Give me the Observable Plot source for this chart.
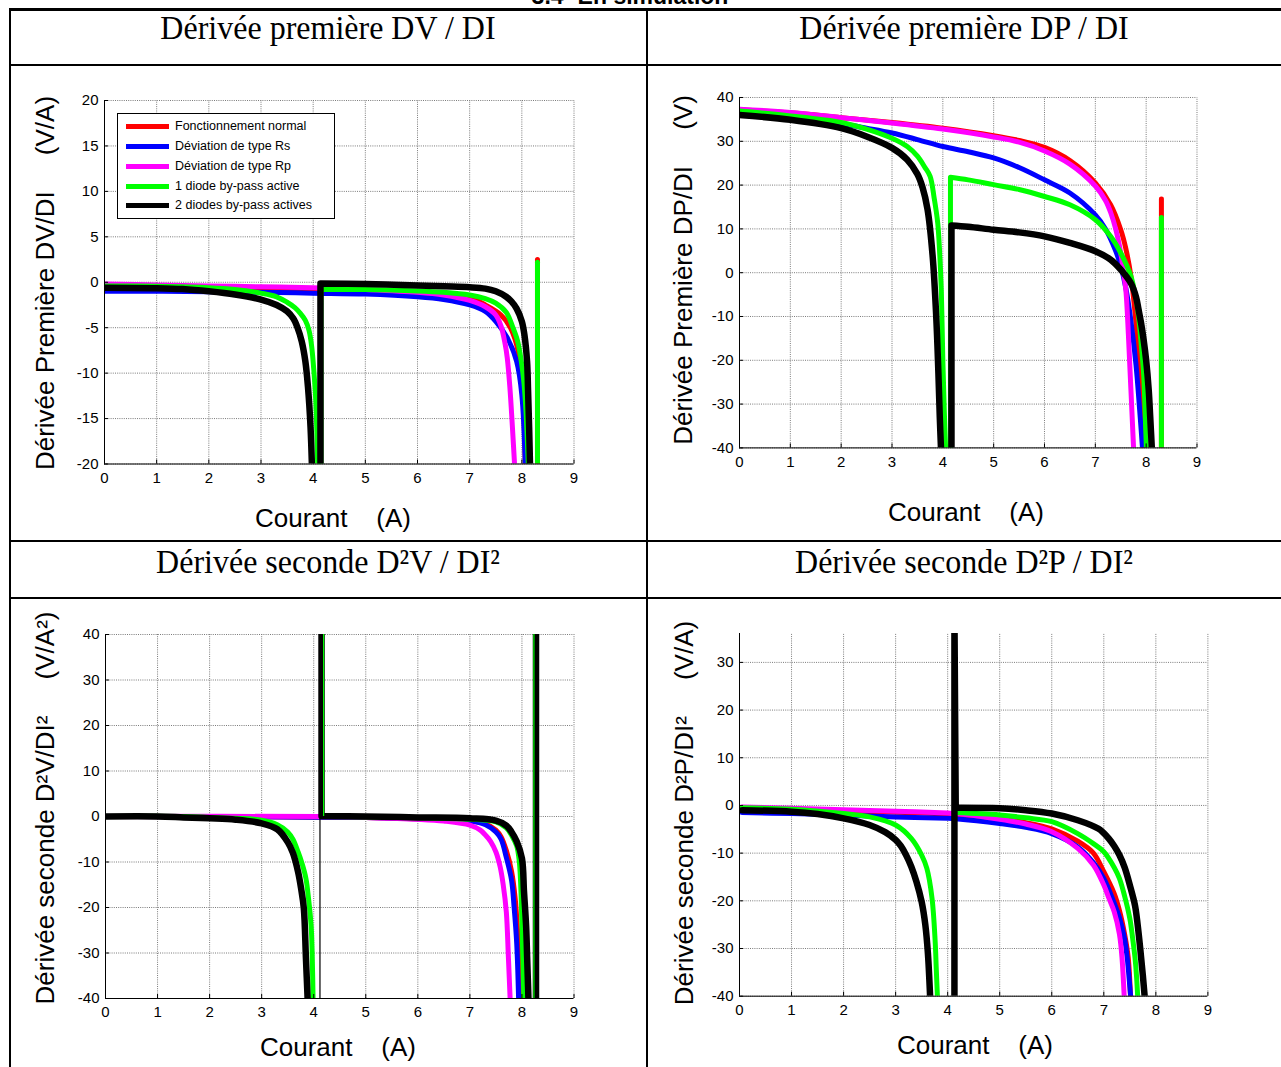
<!DOCTYPE html>
<html>
<head>
<meta charset="utf-8">
<script src="https://cdn.jsdelivr.net/npm/d3@7"></script>
<script src="https://cdn.jsdelivr.net/npm/@observablehq/plot@0.6"></script>
<style>
  body { margin: 0; background: #fff; }
  #page { position: relative; width: 1281px; height: 1067px; overflow: hidden; background: #fff;
          font-family: "Liberation Sans", Arial, sans-serif; color: #000; }
  .rule { position: absolute; background: #000; }
  .hdr { position: absolute; font-family: "Liberation Serif", "Times New Roman", serif; font-size: 32px;
         transform: translate(-50%, -50%) scaleY(1.08); white-space: nowrap; }
  .ylab { position: absolute; font-size: 26px; white-space: pre; transform: translate(-50%, -50%) rotate(-90deg); }
  .xlab { position: absolute; font-size: 26px; white-space: pre; transform: translate(-50%, -50%); }
  .chart { position: absolute; }
  .chart svg { overflow: visible; }
  #legend { position: absolute; left: 117px; top: 113px; width: 216px; height: 104px; border: 1px solid #000; background: #fff; }
  .lg-line { position: absolute; left: 8px; width: 43px; height: 5px; }
  .lg-text { position: absolute; left: 57px; font-size: 12.5px; transform: translateY(-50%); white-space: nowrap; }
  #toptitle { position: absolute; left: 630px; top: -15px; transform: translateX(-50%); font-weight: bold;
              font-size: 23px; line-height: 23px; font-family: "Liberation Sans", Arial, sans-serif; white-space: nowrap; }
</style>
</head>
<body>
<div id="page">
  <div id="toptitle">3.4- En simulation</div>
  <!-- table borders -->
  <div class="rule" style="left:9px;top:8px;width:1272px;height:3px"></div>
  <div class="rule" style="left:9px;top:64px;width:1272px;height:2px"></div>
  <div class="rule" style="left:9px;top:540px;width:1272px;height:2px"></div>
  <div class="rule" style="left:9px;top:597px;width:1272px;height:2px"></div>
  <div class="rule" style="left:9px;top:8px;width:2px;height:1059px"></div>
  <div class="rule" style="left:646px;top:8px;width:2px;height:1059px"></div>

  <div class="hdr" style="left:328px;top:28px">Dérivée première DV / DI</div>
  <div class="hdr" style="left:964px;top:28px">Dérivée première DP / DI</div>
  <div class="hdr" style="left:328px;top:562px">Dérivée seconde D²V / DI²</div>
  <div class="hdr" style="left:964px;top:562px">Dérivée seconde D²P / DI²</div>

  <div id="c1" class="chart"></div>
  <div id="c2" class="chart"></div>
  <div id="c3" class="chart"></div>
  <div id="c4" class="chart"></div>

  <div class="ylab" style="left:45px;top:283px">Dérivée Première DV/DI     (V/A)</div>
  <div class="ylab" style="left:683px;top:270px">Dérivée Première DP/DI     (V)</div>
  <div class="ylab" style="left:45px;top:808px">Dérivée seconde D²V/DI²     (V/A²)</div>
  <div class="ylab" style="left:684px;top:813px">Dérivée seconde D²P/DI²     (V/A)</div>

  <div class="xlab" style="left:333px;top:518px">Courant    (A)</div>
  <div class="xlab" style="left:966px;top:512px">Courant    (A)</div>
  <div class="xlab" style="left:338px;top:1047px">Courant    (A)</div>
  <div class="xlab" style="left:975px;top:1045px">Courant    (A)</div>

  <div id="legend"></div>
</div>
<script>
// ---------------- DATA ----------------
const seriesNames = ["Fonctionnement normal", "Déviation de type Rs", "Déviation de type Rp", "1 diode by-pass active", "2 diodes by-pass actives"];
const seriesColors = ["#ff0000", "#0000ff", "#ff00ff", "#00ff00", "#000000"];

const xTicks = [0, 1, 2, 3, 4, 5, 6, 7, 8, 9];
const dvTicks = [-20, -15, -10, -5, 0, 5, 10, 15, 20];
const dpTicks = [-40, -30, -20, -10, 0, 10, 20, 30, 40];
const d2vTicks = [-40, -30, -20, -10, 0, 10, 20, 30, 40];
const d2pTicks = [-40, -30, -20, -10, 0, 10, 20, 30];

// Panel 1 : DV/DI (V/A) — each series is a list of segments of [I, value]
const dvNormal = [
  [[0,-0.5],[1,-0.55],[2,-0.65],[3,-0.75],[4,-0.85],[5,-1.0],[6,-1.3],[6.5,-1.5],[7,-1.7],[7.3,-2.5],[7.6,-3.6],[7.78,-5.0],[7.93,-7.6],[8.02,-12.4],[8.07,-21]],
  [[8.3,-21],[8.3,2.5]]
];
const dvRs = [
  [[0,-1.0],[1,-1.0],[2,-1.05],[3,-1.1],[4,-1.2],[5,-1.3],[6,-1.6],[6.5,-1.9],[7,-2.5],[7.3,-3.2],[7.5,-4.3],[7.72,-6.1],[7.9,-8.7],[8.0,-12.4],[8.07,-21]]
];
const dvRp = [
  [[0,-0.2],[1,-0.3],[2,-0.4],[3,-0.5],[4,-0.6],[5,-0.8],[6,-1.1],[6.5,-1.4],[7,-2.0],[7.3,-2.7],[7.5,-3.6],[7.6,-4.8],[7.68,-6.8],[7.72,-8.3],[7.77,-11.5],[7.82,-16],[7.87,-21]]
];
const dv1Diode = [
  [[0,-0.4],[1,-0.45],[2,-0.6],[2.5,-0.8],[3,-1.2],[3.3,-1.6],[3.5,-2.2],[3.65,-2.8],[3.75,-3.4],[3.85,-4.2],[3.92,-5.3],[3.97,-7],[4.01,-9.5],[4.05,-13],[4.09,-21]],
  [[4.15,-21],[4.15,-0.8],[4.15,-0.8],[5,-0.8],[6,-0.95],[6.5,-1.1],[7,-1.4],[7.3,-1.8],[7.5,-2.3],[7.7,-3.3],[7.83,-5.0],[7.92,-6.5],[7.99,-8.7],[8.04,-11],[8.08,-14.2],[8.13,-21]],
  [[8.3,-21],[8.3,2.2]]
];
const dv2Diodes = [
  [[0,-0.6],[1,-0.65],[1.5,-0.75],[2,-1.0],[2.5,-1.35],[3,-1.9],[3.3,-2.5],[3.5,-3.2],[3.62,-4.0],[3.7,-5.0],[3.78,-6.5],[3.85,-8.7],[3.9,-11.5],[3.95,-16],[3.98,-21]],
  [[4.14,-21],[4.14,-0.15],[4.14,-0.15],[5,-0.2],[6,-0.35],[6.5,-0.45],[7,-0.55],[7.3,-0.7],[7.5,-1.0],[7.7,-1.6],[7.8,-2.1],[7.9,-2.9],[8.0,-4.3],[8.05,-5.8],[8.1,-8.7],[8.12,-12],[8.14,-16],[8.16,-21]]
];

// Panel 2 : DP/DI (V)
const dpNormal = [
  [[0,37.2],[1,36.5],[2,35.4],[3,34.3],[4,33.0],[5,31.3],[5.5,30.2],[6,28.6],[6.5,25.6],[7,20.5],[7.3,15.5],[7.5,9.8],[7.6,5.5],[7.7,-0.8],[7.8,-11.5],[7.88,-24],[7.93,-35],[7.96,-42]],
  [[8.3,-42],[8.3,16.8]]
];
const dpRs = [
  [[0,36.6],[1,35.4],[2,34.0],[2.5,33.0],[3,31.9],[3.5,30.4],[4,28.8],[4.5,27.6],[5,26.2],[5.5,24.0],[6,21.2],[6.5,18.2],[7,13.2],[7.2,10],[7.4,5],[7.5,1.5],[7.6,-3.5],[7.7,-11],[7.8,-21],[7.87,-31],[7.94,-42]]
];
const dpRp = [
  [[0,37.3],[1,36.6],[2,35.4],[3,34.2],[4,32.8],[5,31.0],[5.5,29.8],[6,27.8],[6.5,24.8],[7,19.8],[7.2,16.5],[7.3,13.8],[7.4,10],[7.5,4.5],[7.55,0.5],[7.6,-3.9],[7.65,-14],[7.7,-26.7],[7.76,-42]]
];
const dp1Diode = [
  [[0,36.9],[1,35.8],[2,34.3],[2.5,32.8],[3,30.7],[3.3,28.8],[3.5,26.6],[3.65,24],[3.75,22],[3.83,17],[3.9,11.3],[3.94,4],[3.97,-4],[4.0,-20],[4.03,-32],[4.06,-42]],
  [[4.15,-42],[4.15,21.8],[4.15,21.8],[4.5,21.2],[5,20.1],[5.5,19],[6,17.4],[6.5,15.5],[7,12.1],[7.3,8.3],[7.5,4.5],[7.7,-0.8],[7.8,-6],[7.85,-10],[7.9,-16],[7.95,-23],[7.98,-32],[8.01,-42]],
  [[8.3,-42],[8.3,12.6]]
];
const dp2Diodes = [
  [[0,36],[1,34.9],[2,33],[2.5,31.1],[3,28.5],[3.3,25.8],[3.5,22.5],[3.6,19.5],[3.7,14.4],[3.8,3.7],[3.87,-10],[3.91,-22],[3.94,-33],[3.97,-42]],
  [[4.17,-42],[4.17,10.8],[4.17,10.8],[4.5,10.5],[5,9.8],[5.5,9.2],[6,8.3],[6.5,6.8],[7,4.9],[7.3,3.0],[7.5,0.7],[7.7,-2.4],[7.8,-5.5],[7.85,-8.4],[7.9,-11.5],[7.95,-15.3],[8.0,-20],[8.05,-26.7],[8.08,-33],[8.12,-42]]
];

// Panel 3 : D2V/DI2 (V/A2)
const d2vNormal = [
  [[0,0],[5,-0.2],[6,-0.5],[7,-0.9],[7.3,-1.6],[7.5,-3],[7.6,-4.5],[7.7,-7.5],[7.8,-12],[7.87,-18],[7.92,-26],[7.95,-33],[7.98,-42]]
];
const d2vRs = [
  [[0,0],[5,-0.2],[6,-0.5],[7,-1.0],[7.3,-1.8],[7.5,-3.4],[7.6,-5],[7.7,-9],[7.8,-14],[7.85,-20],[7.9,-28],[7.94,-42]]
];
const d2vRp = [
  [[0,0],[4.15,0],[5,-0.2],[6,-0.6],[6.5,-1.0],[7,-1.9],[7.2,-3.0],[7.3,-4.1],[7.4,-5.5],[7.5,-7.8],[7.58,-11],[7.64,-15],[7.7,-21],[7.74,-31],[7.78,-42]]
];
const d2v1Diode = [
  [[0,0],[1.5,0],[2,-0.2],[2.5,-0.4],[3,-0.8],[3.3,-1.8],[3.5,-3.4],[3.6,-5],[3.7,-7.8],[3.78,-10.5],[3.85,-13.6],[3.9,-18],[3.95,-24],[3.97,-30],[3.99,-42]],
  [[4.15,0],[5,-0.1],[6,-0.3],[7,-0.6],[7.5,-1.2],[7.7,-2.5],[7.8,-4.1],[7.9,-6.5],[7.95,-10],[7.98,-16],[8.0,-24],[8.02,-32],[8.04,-42]]
];
const d2v2Diodes = [
  [[0,0],[1,0],[1.5,-0.2],[2,-0.4],[2.5,-0.7],[3,-1.5],[3.3,-2.8],[3.5,-5.6],[3.6,-8],[3.7,-12.2],[3.76,-16],[3.81,-20.2],[3.85,-31],[3.89,-42]],
  [[4.15,42],[4.15,0.1],[4.15,0.1],[5,0],[6,-0.2],[7,-0.4],[7.5,-0.9],[7.7,-2],[7.8,-3.4],[7.9,-5.5],[8.0,-9.2],[8.04,-16.6],[8.08,-24],[8.1,-31],[8.13,-42]],
  [[8.27,-42],[8.27,42]]
];
// thin connector lines in panel 3: {x, y1, y2, s = series index}
const d2vThin = [
  {x: 4.12, y1: -40, y2: 0, s: 4},
  {x: 4.19, y1: 0, y2: 40, s: 3},
  {x: 8.23, y1: -40, y2: 40, s: 3}
];

// Panel 4 : D2P/DI2 (V/A)
const d2pNormal = [
  [[0.05,-0.5],[1,-0.8],[2,-1.1],[3,-1.4],[4,-1.8],[4.15,-1.9],[5,-2.8],[5.5,-3.6],[6,-4.9],[6.5,-7.5],[6.8,-10],[7,-13.9],[7.2,-18.5],[7.3,-22],[7.4,-27],[7.47,-32],[7.52,-42]]
];
const d2pRs = [
  [[0.05,-1.5],[1,-1.7],[2,-2.0],[3,-2.4],[4,-2.7],[4.15,-2.8],[5,-3.8],[5.5,-4.6],[6,-5.9],[6.5,-8.7],[6.8,-12],[7,-15.3],[7.2,-20.5],[7.3,-23.5],[7.4,-28],[7.45,-32],[7.5,-38],[7.53,-42]]
];
const d2pRp = [
  [[0.05,-0.3],[1,-0.6],[2,-0.9],[3,-1.2],[4,-1.6],[4.15,-1.7],[5,-2.9],[5.5,-3.9],[6,-5.5],[6.5,-9],[6.8,-12.5],[7,-16.7],[7.1,-19.5],[7.2,-22.3],[7.3,-27],[7.35,-32],[7.4,-42]]
];
const d2p1Diode = [
  [[0.05,-0.5],[1,-0.8],[2,-1.7],[2.5,-2.4],[3,-4.1],[3.3,-6.9],[3.5,-10.4],[3.6,-13.2],[3.7,-19.5],[3.76,-28.6],[3.78,-34],[3.81,-42]],
  [[4.15,-1.5],[5,-2.0],[5.5,-2.6],[6,-3.4],[6.5,-5.9],[6.8,-8],[7,-9.7],[7.2,-13],[7.3,-15.3],[7.4,-19],[7.5,-23.7],[7.55,-27.5],[7.6,-32],[7.63,-36],[7.66,-42]]
];
const d2p2Diodes = [
  [[0.05,-1.0],[1,-1.3],[1.5,-1.8],[2,-2.7],[2.5,-4.1],[2.8,-5.6],[3.0,-7.2],[3.1,-8.5],[3.2,-10.4],[3.3,-12.8],[3.4,-16],[3.5,-20.2],[3.57,-25],[3.62,-31],[3.67,-42]],
  [[4.13,-42],[4.13,40],[4.13,40],[4.155,-0.5],[4.155,-0.5],[5,-0.6],[5.5,-1.0],[6,-1.7],[6.5,-3.1],[6.9,-4.9],[7.0,-5.8],[7.1,-7],[7.2,-8.5],[7.3,-10.4],[7.4,-13],[7.5,-16.7],[7.6,-21],[7.65,-25],[7.7,-30],[7.75,-35.6],[7.8,-42]]
];

// ---------------- LAYOUT ----------------
const panels = [
  {id: "c1", frame: {x0: 104, x1: 573.5, y0: 100, y1: 463.5}, yDomain: [-20, 20], yTicks: dvTicks,
   series: [dvNormal, dvRs, dvRp, dv1Diode, dv2Diodes], thin: []},
  {id: "c2", frame: {x0: 738.5, x1: 1196, y0: 97.3, y1: 447.7}, yDomain: [-40, 40], yTicks: dpTicks,
   series: [dpNormal, dpRs, dpRp, dp1Diode, dp2Diodes], thin: []},
  {id: "c3", frame: {x0: 105, x1: 573.5, y0: 634.3, y1: 998.3}, yDomain: [-40, 40], yTicks: d2vTicks,
   series: [d2vNormal, d2vRs, d2vRp, d2v1Diode, d2v2Diodes], thin: d2vThin},
  {id: "c4", frame: {x0: 739.3, x1: 1207.7, y0: 633.3, y1: 996}, yDomain: [-40, 36.06], yTicks: d2pTicks,
   series: [d2pNormal, d2pRs, d2pRp, d2p1Diode, d2p2Diodes], thin: []}
];

const gridStyle = {stroke: "#7a7a7a", strokeDasharray: "1,1.2", strokeWidth: 1};

function drawPanel(p) {
  const {x0, x1, y0, y1} = p.frame;
  const mL = 50, mR = 20, mT = 12, mB = 30;
  const W = (x1 - x0) + mL + mR, H = (y1 - y0) + mT + mB;
  const [ymin, ymax] = p.yDomain;
  const pxX = (x1 - x0) / 9, pxY = (y1 - y0) / (ymax - ymin);
  const tX = 4 / pxX, tY = 4 / pxY;
  const marks = [
    Plot.ruleX(xTicks, {x: d => d, y1: ymin, y2: ymax, ...gridStyle}),
    Plot.ruleY(p.yTicks, {y: d => d, x1: 0, x2: 9, ...gridStyle}),
  ];
  p.series.forEach((segs, i) => {
    const rows = segs.flatMap((seg, j) => seg.map(([x, y]) => ({x, y, seg: j})));
    marks.push(Plot.line(rows, {x: "x", y: "y", z: "seg", stroke: seriesColors[i],
      strokeWidth: i === 4 ? 6.5 : 5, clip: true, curve: "catmull-rom", strokeLinejoin: "round"}));
  });
  p.thin.forEach(t => {
    marks.push(Plot.ruleX([t], {x: "x", y1: "y1", y2: "y2", stroke: seriesColors[t.s], strokeWidth: 1.2}));
  });
  marks.push(
    Plot.ruleX([0], {y1: ymin, y2: ymax, stroke: "#000", strokeWidth: 1}),
    Plot.ruleY([ymin], {x1: 0, x2: 9, stroke: "#000", strokeWidth: 1}),
    Plot.ruleY(p.yTicks, {y: d => d, x1: 0, x2: tX, stroke: "#000"}),
    Plot.ruleX(xTicks, {x: d => d, y1: ymin, y2: ymin + tY, stroke: "#000"}),
    Plot.text(p.yTicks, {x: 0, y: d => d, text: d => String(d), textAnchor: "end", dx: -6, fontSize: 15, fill: "#000"}),
    Plot.text(xTicks, {x: d => d, y: ymin, text: d => String(d), dy: 14, fontSize: 15, fill: "#000"})
  );
  const svg = Plot.plot({
    width: W, height: H,
    marginLeft: mL, marginRight: mR, marginTop: mT, marginBottom: mB,
    x: {domain: [0, 9], axis: null},
    y: {domain: [ymin, ymax], axis: null},
    style: {fontFamily: "'Liberation Sans', Arial, sans-serif", background: "transparent", color: "#000"},
    marks
  });
  const el = document.getElementById(p.id);
  el.style.left = (x0 - mL) + "px";
  el.style.top = (y0 - mT) + "px";
  el.appendChild(svg);
}
panels.forEach(drawPanel);

// legend (panel 1)
const lg = document.getElementById("legend");
const rowY = [12, 32, 52, 72, 91];
seriesNames.forEach((name, i) => {
  const line = document.createElement("div");
  line.className = "lg-line";
  line.style.top = (rowY[i] - 2.5) + "px";
  line.style.background = seriesColors[i];
  lg.appendChild(line);
  const t = document.createElement("div");
  t.className = "lg-text";
  t.style.top = rowY[i] + "px";
  t.textContent = name;
  lg.appendChild(t);
});
</script>
</body>
</html>
